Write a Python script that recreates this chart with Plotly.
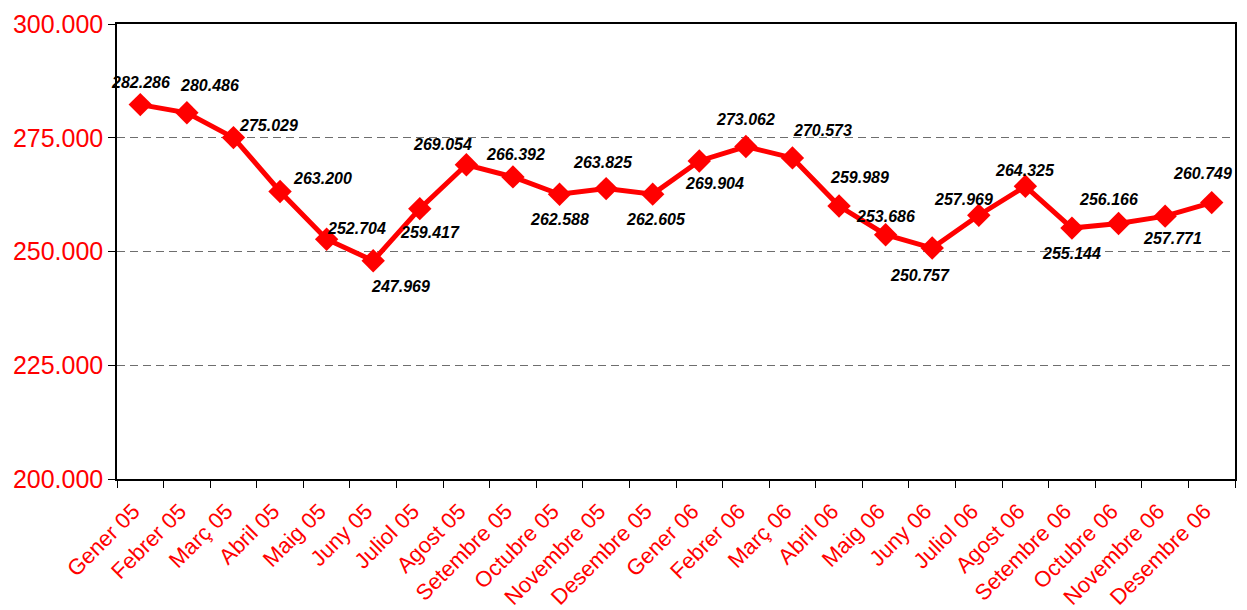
import plotly.graph_objects as go

months = ["Gener 05", "Febrer 05", "Març 05", "Abril 05", "Maig 05", "Juny 05", "Juliol 05",
          "Agost 05", "Setembre 05", "Octubre 05", "Novembre 05", "Desembre 05",
          "Gener 06", "Febrer 06", "Març 06", "Abril 06", "Maig 06", "Juny 06", "Juliol 06",
          "Agost 06", "Setembre 06", "Octubre 06", "Novembre 06", "Desembre 06"]
values = [282286, 280486, 275029, 263200, 252704, 247969, 259417, 269054, 266392, 262588,
          263825, 262605, 269904, 273062, 270573, 259989, 253686, 250757, 257969, 264325,
          255144, 256166, 257771, 260749]
labels = ["282.286", "280.486", "275.029", "263.200", "252.704", "247.969", "259.417",
          "269.054", "266.392", "262.588", "263.825", "262.605", "269.904", "273.062",
          "270.573", "259.989", "253.686", "250.757", "257.969", "264.325", "255.144",
          "256.166", "257.771", "260.749"]
ytick_vals = [200000, 225000, 250000, 275000, 300000]
ytick_text = ["200.000", "225.000", "250.000", "275.000", "300.000"]

# label offsets in pixels (dx right, dy down)
label_dx = [0, 23, 35, 42, 30, 27, 10, -24, 3, 0, -3, 3, 15, 0, 30, 20, 0, -12, -15, 0, 0, -10, 7, -9]
label_dy = [-22, -27, -12, -13, -11, 26, 24, -20, -22, 25, -26, 25, 23, -27, -27, -29, -18, 27, -16, -16, 25, -24, 22, -29]

FONT = "Arial, Liberation Sans, sans-serif"

fig = go.Figure()
fig.add_trace(go.Scatter(
    x=months, y=values, mode="lines+markers",
    line=dict(color="#ff0000", width=5),
    marker=dict(symbol="diamond", size=18, color="#ff0000"),
    hoverinfo="x+y", showlegend=False,
))

for m, v, t, dx, dy in zip(months, values, labels, label_dx, label_dy):
    fig.add_annotation(x=m, y=v, text="<b><i>" + t + "</i></b>", showarrow=False,
                       xshift=dx, yshift=-dy,
                       font=dict(family=FONT, size=16, color="black"))

fig.update_layout(
    width=1239, height=602,
    margin=dict(l=109, r=12, t=16, b=131),
    paper_bgcolor="white", plot_bgcolor="white",
    separators=",.",
    font=dict(family=FONT),
)
fig.update_xaxes(
    type="category", range=[-0.5, len(months) - 0.5],
    tickson="boundaries", ticks="outside", ticklen=7, tickcolor="black",
    showline=True, linecolor="black", linewidth=1.5, mirror=True,
    showgrid=False, tickangle=-45, automargin=False,
    ticklabelshift=-7, ticklabelstandoff=9,
    tickfont=dict(family=FONT, size=22, color="#ff0000"),
)
fig.update_yaxes(
    range=[200000, 300000], tickvals=ytick_vals, ticktext=ytick_text,
    ticks="outside", ticklen=7, tickcolor="black",
    showline=True, linecolor="black", linewidth=1.5, mirror=True,
    showgrid=True, gridcolor="#6e6e6e", griddash="8px,5px", gridwidth=1,
    zeroline=False, automargin=False,
    tickfont=dict(family=FONT, size=25, color="#ff0000"),
)

fig.write_html("out.html")
